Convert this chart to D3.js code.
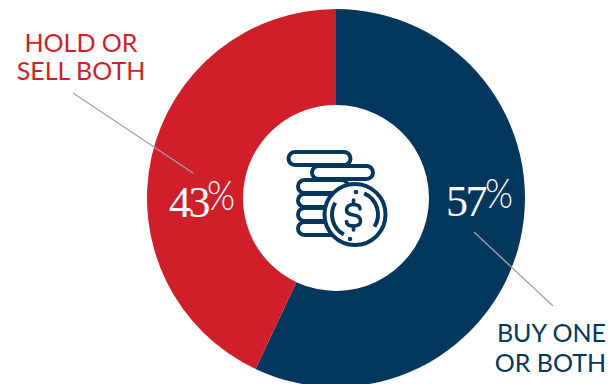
<!DOCTYPE html>
<html>
<head>
<meta charset="utf-8">
<script src="https://d3js.org/d3.v7.min.js"></script>
<style>
html,body{margin:0;padding:0;background:#fff;overflow:hidden}
svg{display:block}
</style>
</head>
<body>
<svg id="chart" width="610" height="384"></svg>
<script>
// Share of respondents by planned action
const categories = ["BUY ONE OR BOTH", "HOLD OR SELL BOTH"];
const shares = [57, 43];
const colours = ["#03375E", "#CE1F2A"];

const svg = d3.select("#chart");
const cx = 336, cy = 198, outer = 189, inner = 93;
const navy = colours[0], red = colours[1];

const pie = d3.pie().sort(null).value(d => d);
const arc = d3.arc().innerRadius(inner).outerRadius(outer);
const ring = svg.append("g").attr("transform", `translate(${cx},${cy})`);
ring.selectAll("path").data(pie(shares)).join("path")
  .attr("d", arc)
  .attr("fill", (d, i) => colours[i]);

// Leader lines from the callouts into the ring
const leaders = [[474, 232, 553, 306], [73, 93, 193, 173]];
svg.selectAll("line.leader").data(leaders).join("line")
  .attr("class", "leader")
  .attr("x1", d => d[0]).attr("y1", d => d[1])
  .attr("x2", d => d[2]).attr("y2", d => d[3])
  .attr("stroke", "#a3a3a3").attr("stroke-width", 1.4);

// Percentage labels: serif numerals with a thin raised percent sign
const numeralPos = [[446, 216], [169, 217]];
const signPos = [[485, 208], [207, 210]];
shares.forEach((v, i) => {
  svg.append("text").text(v)
    .attr("x", numeralPos[i][0]).attr("y", numeralPos[i][1])
    .attr("fill", "#fff")
    .attr("font-family", "'Liberation Serif', serif")
    .attr("font-size", 44).attr("letter-spacing", -2.5);
  svg.append("text").text("%")
    .attr("x", signPos[i][0]).attr("y", signPos[i][1])
    .attr("fill", "#fff")
    .attr("font-family", "Lato, sans-serif")
    .attr("font-weight", 300)
    .attr("font-size", 41)
    .attr("textLength", 28)
    .attr("lengthAdjust", "spacingAndGlyphs");
});

// Callout captions
const captions = [
  { lines: ["BUY ONE", "OR BOTH"], x: 606, y: [342, 372], anchor: "end", fill: navy },
  { lines: ["HOLD OR", "SELL BOTH"], x: 81, y: [52, 80], anchor: "middle", fill: red }
];
captions.forEach(c => {
  c.lines.forEach((line, i) => {
    svg.append("text").text(line)
      .attr("x", c.x).attr("y", c.y[i])
      .attr("text-anchor", c.anchor)
      .attr("font-family", "Lato, sans-serif")
      .attr("font-size", 25)
      .attr("fill", c.fill);
  });
});

// Coin-stack emblem in the centre of the ring
const icon = svg.append("g")
  .attr("fill", "none").attr("stroke", navy)
  .attr("stroke-width", 4).attr("stroke-linecap", "round");
const pills = [
  [288.5, 152, 62, 13], [312, 166, 61, 13], [298, 180, 50, 13],
  [298, 194, 50, 13], [298, 208, 50, 13], [298, 222, 50, 13]
];
icon.selectAll("rect").data(pills).join("rect")
  .attr("x", d => d[0]).attr("y", d => d[1])
  .attr("width", d => d[2]).attr("height", d => d[3])
  .attr("rx", 6.5).attr("fill", "#fff");

const coinX = 355, coinY = 214.5;
icon.append("circle").attr("cx", coinX).attr("cy", coinY).attr("r", 30.5).attr("fill", "#fff");

// Broken inner rim of the coin
const rim = d3.arc().innerRadius(23).outerRadius(23);
[[0.41, 2.13], [3.65, 5.25]].forEach(([a, b]) => {
  icon.append("path")
    .attr("transform", `translate(${coinX},${coinY})`)
    .attr("d", rim({ startAngle: a, endAngle: b }));
});
icon.append("circle").attr("cx", 356).attr("cy", 192).attr("r", 1).attr("stroke-width", 2.6);
icon.append("circle").attr("cx", 350).attr("cy", 239).attr("r", 1).attr("stroke-width", 2.6);

// Dollar sign
icon.append("path").attr("stroke-width", 3.6).attr("stroke-linejoin", "round")
  .attr("d", "M360 209 C360 206 358 204.5 353.5 204.5 C349 204.5 346.5 207 346.5 210 C346.5 213.5 350 214.5 353.5 215 C357.5 215.5 360.5 217.5 360.5 221 C360.5 224.5 358 226 353.5 226 C349 226 346.5 224.5 346.5 221.5");
icon.append("path").attr("stroke-width", 3.6).attr("d", "M353.5 200 V204.5 M353.5 226 V230");
</script>
</body>
</html>
